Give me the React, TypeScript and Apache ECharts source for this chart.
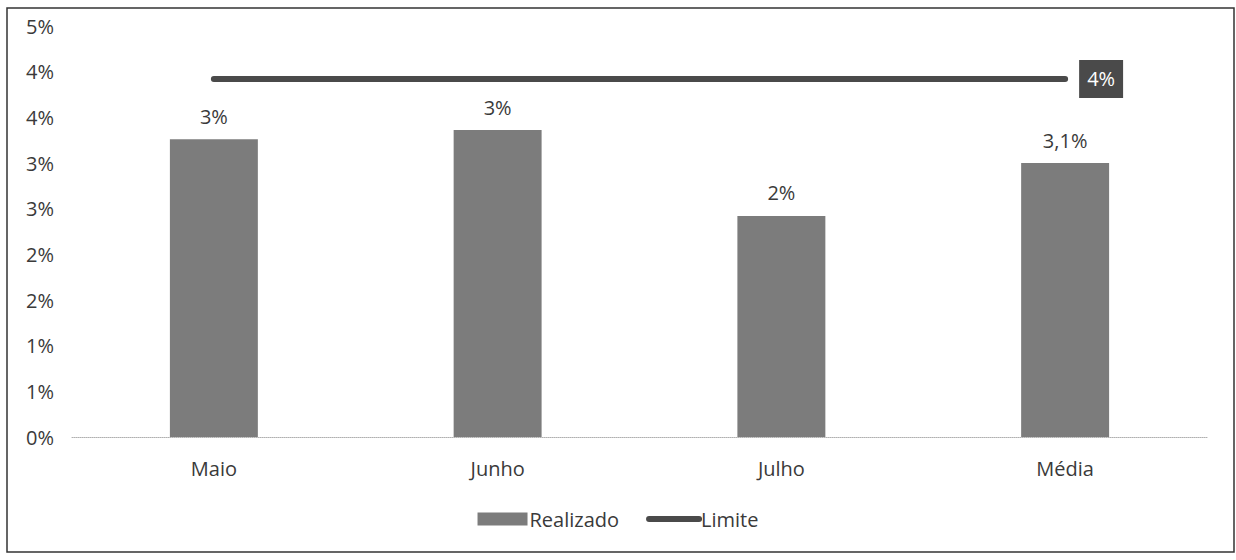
import React, { useEffect, useRef } from "react";
import * as echarts from "echarts";

const categories = ["Maio", "Junho", "Julho", "Média"];
const realizado = [3.26, 3.36, 2.42, 3.0];
const realizadoLabels = ["3%", "3%", "2%", "3,1%"];
const limite = [3.92, 3.92, 3.92, 3.92];
const limiteLabel = "4%";

const FONT = "'Open Sans', sans-serif";
const TEXT = "#3a3a3a";
const FS = 20;

export default function App() {
  const ref = useRef<HTMLDivElement>(null);
  useEffect(() => {
    if (!ref.current) return;
    const chart = echarts.init(ref.current, undefined, { renderer: "svg" });
    chart.setOption({
      animation: false,
      backgroundColor: "#ffffff",
      textStyle: { fontFamily: FONT },
      graphic: [
        {
          type: "rect",
          shape: { x: 7, y: 8, width: 1227, height: 544 },
          style: { fill: "none", stroke: "#333", lineWidth: 1.5 },
          silent: true,
        },
      ],
      grid: { left: 72, right: 29, top: 26, bottom: 123, containLabel: false },
      legend: {
        bottom: 26,
        left: "center",
        itemWidth: 50,
        itemHeight: 13,
        itemGap: 27,
        textStyle: { fontFamily: FONT, fontSize: FS, color: TEXT, padding: [0, 0, 0, -3] },
        data: [
          { name: "Realizado", icon: "rect" },
          {
            name: "Limite",
            itemStyle: { opacity: 0 },
            lineStyle: { width: 6, color: "#4a4a4a", cap: "round" },
          },
        ],
      },
      xAxis: {
        type: "category",
        data: categories,
        axisTick: { show: false },
        axisLine: { lineStyle: { color: "#b0b0b0", width: 1, type: "dotted" } },
        axisLabel: { fontFamily: FONT, fontSize: FS, color: TEXT, margin: 21 },
      },
      yAxis: {
        type: "value",
        min: 0,
        max: 4.5,
        interval: 0.5,
        splitLine: { show: false },
        axisLine: { show: false },
        axisTick: { show: false },
        axisLabel: {
          fontFamily: FONT,
          fontSize: FS,
          color: TEXT,
          margin: 18,
          formatter: (v: number) => Math.round(v) + "%",
        },
      },
      series: [
        {
          name: "Realizado",
          type: "bar",
          data: realizado,
          barWidth: "31%",
          itemStyle: { color: "#7c7c7c" },
          label: {
            show: true,
            position: "top",
            distance: 13,
            fontFamily: FONT,
            fontSize: FS,
            color: TEXT,
            formatter: (p: any) => realizadoLabels[p.dataIndex],
          },
        },
        {
          name: "Limite",
          type: "line",
          data: limite,
          symbol: "none",
          lineStyle: { color: "#4a4a4a", width: 6, cap: "round" },
          itemStyle: { color: "#4a4a4a" },
          endLabel: {
            show: true,
            distance: 14,
            formatter: () => limiteLabel,
            fontFamily: FONT,
            fontSize: FS,
            color: "#ffffff",
            backgroundColor: "#4a4a4a",
            padding: [9, 8],
          },
        },
      ],
    });
    return () => chart.dispose();
  }, []);
  return (
    <div
      ref={ref}
      style={{ position: "absolute", left: 0, top: 0, width: 1236, height: 560 }}
    />
  );
}
